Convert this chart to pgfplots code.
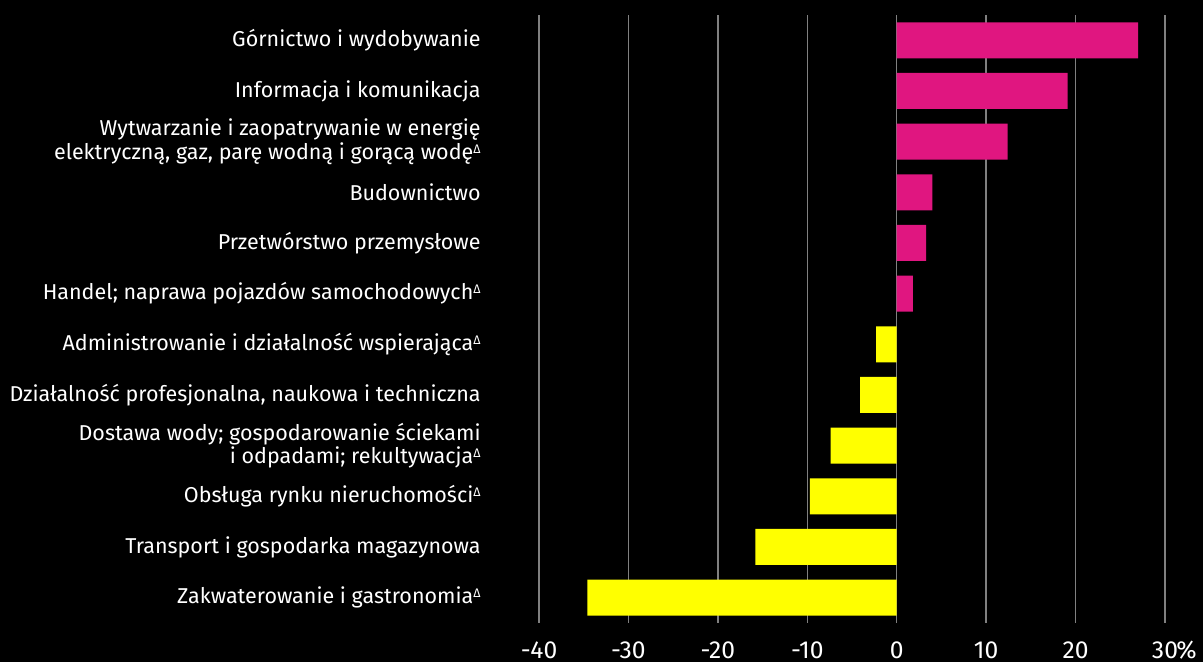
\documentclass[border=0pt]{standalone}
\usepackage{pgfplots}
\pgfplotsset{compat=1.18}
\usepackage{fontspec}
\setmainfont{Fira Sans}
\definecolor{mag}{RGB}{224,22,128}
\definecolor{yel}{RGB}{255,255,0}
\definecolor{gridgray}{RGB}{128,128,128}
\newcommand{\dl}{\raisebox{0.55ex}{\fontsize{6.2}{6}\selectfont Δ}}
\begin{document}
\begin{tikzpicture}[x=1pt,y=1pt]
\fill[black] (0,0) rectangle (601.5,331);
\begin{axis}[
  at={(269.5pt,19.5pt)}, anchor=south west,
  scale only axis, width=313pt, height=304pt,
  xbar, bar width=18pt, bar shift=0pt,
  xmin=-40, xmax=30, ymin=-0.5, ymax=11.5,
  axis line style={draw=none},
  major tick length=0pt,
  xmajorgrids, major grid style={gridgray, line width=0.75pt},
  xtick={-40,-30,-20,-10,0,10,20,30},
  xticklabels={-40,-30,-20,-10,0,10,20,30\rlap{\kern-0.8pt\%}},
  xticklabel style={font=\fontsize{12.3}{13}\selectfont, text=white, anchor=north, inner sep=0pt, yshift=-9pt},
  ytick={0,...,11},
  yticklabels={
    {Zakwaterowanie i gastronomia\dl},
    {Transport i gospodarka magazynowa},
    {Obsługa rynku nieruchomości\dl},
    {Dostawa wody; gospodarowanie ściekami\\i odpadami; rekultywacja\dl},
    {Działalność profesjonalna, naukowa i techniczna},
    {Administrowanie i działalność wspierająca\dl},
    {Handel; naprawa pojazdów samochodowych\dl},
    {Przetwórstwo przemysłowe},
    {Budownictwo},
    {Wytwarzanie i zaopatrywanie w energię\\elektryczną, gaz, parę wodną i gorącą wodę\dl},
    {Informacja i komunikacja},
    {Górnictwo i wydobywanie}},
  yticklabel style={font=\fontsize{10.75}{10.6}\selectfont, text=white, align=right, anchor=east, inner sep=0pt, xshift=-29pt},
]
\addplot[fill=mag, draw=none] coordinates {(27.0,11) (19.1,10) (12.4,9) (4.0,8) (3.3,7) (1.8,6)};
\addplot[fill=yel, draw=none] coordinates {(-2.3,5) (-4.1,4) (-7.4,3) (-9.7,2) (-15.8,1) (-34.6,0)};
\end{axis}
\pgfresetboundingbox
\useasboundingbox (0,0) rectangle (601.5,331);
\end{tikzpicture}
\end{document}
